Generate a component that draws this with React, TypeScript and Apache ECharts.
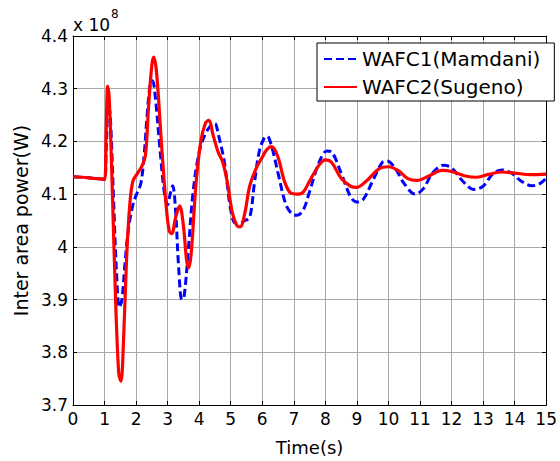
import React, { useEffect, useRef } from "react";
import * as echarts from "echarts";

const xTicks = [0, 1, 2, 3, 4, 5, 6, 7, 8, 9, 10, 11, 12, 13, 14, 15];
const yTicks = [3.7, 3.8, 3.9, 4.0, 4.1, 4.2, 4.3, 4.4];

// WAFC1 (Mamdani) — blue dashed, values in 1e8 W
const mamdaniT = [0, 0.5, 1.0, 1.05, 1.12, 1.18, 1.28, 1.38, 1.47, 1.55, 1.65, 1.75, 1.9, 2.05, 2.15, 2.25, 2.35, 2.45, 2.52, 2.6, 2.75, 2.9, 3.0, 3.08, 3.16, 3.25, 3.35, 3.45, 3.52, 3.65, 3.8, 4.0, 4.2, 4.4, 4.5, 4.6, 4.8, 5.0, 5.15, 5.3, 5.45, 5.6, 5.75, 5.9, 6.05, 6.15, 6.3, 6.5, 6.75, 6.95, 7.1, 7.3, 7.5, 7.8, 8.05, 8.2, 8.5, 8.8, 9.0, 9.2, 9.5, 9.8, 9.95, 10.2, 10.5, 10.85, 11.1, 11.4, 11.75, 12.0, 12.35, 12.7, 13.0, 13.3, 13.6, 13.9, 14.2, 14.55, 14.8, 15];
const mamdaniV = [4.133, 4.131, 4.128, 4.18, 4.27, 4.25, 4.1, 3.95, 3.885, 3.9, 3.97, 4.03, 4.08, 4.105, 4.12, 4.17, 4.25, 4.31, 4.315, 4.29, 4.19, 4.1, 4.08, 4.1, 4.116, 4.07, 3.96, 3.9, 3.905, 3.99, 4.1, 4.18, 4.215, 4.232, 4.234, 4.215, 4.16, 4.07, 4.045, 4.045, 4.05, 4.055, 4.12, 4.18, 4.205, 4.21, 4.19, 4.14, 4.08, 4.062, 4.06, 4.07, 4.105, 4.16, 4.182, 4.18, 4.14, 4.095, 4.085, 4.09, 4.125, 4.16, 4.163, 4.15, 4.12, 4.1, 4.11, 4.14, 4.155, 4.15, 4.125, 4.109, 4.115, 4.138, 4.146, 4.14, 4.125, 4.116, 4.12, 4.13];

// WAFC2 (Sugeno) — red solid, values in 1e8 W
const sugenoT = [0, 0.5, 1.0, 1.05, 1.1, 1.15, 1.25, 1.35, 1.45, 1.52, 1.6, 1.7, 1.8, 1.9, 2.05, 2.2, 2.3, 2.4, 2.5, 2.56, 2.65, 2.8, 2.95, 3.05, 3.13, 3.25, 3.38, 3.5, 3.6, 3.67, 3.75, 3.9, 4.05, 4.2, 4.3, 4.45, 4.6, 4.75, 4.9, 5.05, 5.2, 5.3, 5.45, 5.6, 5.8, 6.0, 6.15, 6.3, 6.5, 6.7, 6.9, 7.1, 7.3, 7.5, 7.8, 8.0, 8.2, 8.5, 8.8, 9.0, 9.3, 9.7, 10.0, 10.3, 10.6, 10.9, 11.3, 11.7, 12.0, 12.4, 12.8, 13.2, 13.6, 14.0, 14.5, 15];
const sugenoV = [4.133, 4.131, 4.128, 4.22, 4.305, 4.28, 4.1, 3.9, 3.76, 3.745, 3.82, 3.98, 4.08, 4.125, 4.14, 4.155, 4.175, 4.27, 4.345, 4.36, 4.33, 4.2, 4.08, 4.03, 4.025, 4.055, 4.078, 4.04, 3.975, 3.96, 3.99, 4.12, 4.2, 4.235, 4.24, 4.21, 4.18, 4.16, 4.12, 4.065, 4.04, 4.038, 4.065, 4.115, 4.148, 4.17, 4.185, 4.19, 4.17, 4.125, 4.102, 4.1, 4.104, 4.125, 4.155, 4.165, 4.16, 4.13, 4.115, 4.113, 4.125, 4.148, 4.152, 4.145, 4.13, 4.126, 4.135, 4.145, 4.143, 4.135, 4.132, 4.138, 4.142, 4.14, 4.137, 4.138];

const FONT = "DejaVu Sans";

export default function App() {
  const ref = useRef<HTMLDivElement>(null);
  useEffect(() => {
    if (!ref.current) return;
    const chart = echarts.init(ref.current, undefined, { renderer: "svg" });
    const fmtY = (v: number) => String(+v.toFixed(1));
    const common = {
      min: xTicks[0],
      max: xTicks[xTicks.length - 1],
      interval: 1,
    };
    const yCommon = {
      min: yTicks[0],
      max: yTicks[yTicks.length - 1],
      interval: 0.1,
    };
    chart.setOption({
      animation: false,
      backgroundColor: "#fff",
      grid: { left: 73, right: 13, top: 36, bottom: 50, show: false },
      legend: {
        orient: "vertical",
        left: 317,
        top: 43,
        padding: [6, 14, 4, 6],
        itemWidth: 33,
        itemHeight: 14,
        itemGap: 8,
        backgroundColor: "#fff",
        borderColor: "#000",
        borderWidth: 1,
        borderRadius: 0,
        itemStyle: { opacity: 0 },
        textStyle: { fontFamily: FONT, fontSize: 20, color: "#000", lineHeight: 20 },
        data: ["WAFC1(Mamdani)", "WAFC2(Sugeno)"],
      },
      xAxis: [
        {
          type: "value",
          ...common,
          position: "bottom",
          name: "Time(s)",
          nameLocation: "middle",
          nameGap: 33,
          nameTextStyle: { fontFamily: FONT, fontSize: 18, color: "#000" },
          axisLine: { show: true, onZero: false, lineStyle: { color: "#000", width: 1 } },
          axisTick: { show: true, inside: true, length: 4, lineStyle: { color: "#000" } },
          axisLabel: {
            show: true,
            fontFamily: FONT,
            fontSize: 17,
            color: "#000",
            margin: 5,
            formatter: (v: number) => String(v),
          },
          splitLine: { show: true, lineStyle: { color: "#a8a8a8", width: 1 } },
        },
        {
          type: "value",
          ...common,
          position: "top",
          axisLine: { show: true, onZero: false, lineStyle: { color: "#000", width: 1 } },
          axisTick: { show: true, inside: true, length: 4, lineStyle: { color: "#000" } },
          axisLabel: { show: false },
          splitLine: { show: false },
        },
      ],
      yAxis: [
        {
          type: "value",
          ...yCommon,
          position: "left",
          name: "Inter area power(W)",
          nameLocation: "middle",
          nameGap: 40,
          nameTextStyle: { fontFamily: FONT, fontSize: 19, color: "#000" },
          axisLine: { show: true, onZero: false, lineStyle: { color: "#000", width: 1 } },
          axisTick: { show: true, inside: true, length: 4, lineStyle: { color: "#000" } },
          axisLabel: {
            show: true,
            fontFamily: FONT,
            fontSize: 17,
            color: "#000",
            margin: 5,
            formatter: fmtY,
          },
          splitLine: { show: true, lineStyle: { color: "#a8a8a8", width: 1 } },
        },
        {
          type: "value",
          ...yCommon,
          position: "right",
          axisLine: { show: true, onZero: false, lineStyle: { color: "#000", width: 1 } },
          axisTick: { show: true, inside: true, length: 4, lineStyle: { color: "#000" } },
          axisLabel: { show: false },
          splitLine: { show: false },
        },
      ],
      graphic: [
        {
          type: "text",
          left: 73,
          top: 8,
          style: {
            text: "{a|x 10}{b|8}",
            rich: {
              a: { fontFamily: FONT, fontSize: 17, color: "#000", verticalAlign: "bottom", padding: [8, 0, 0, 0] },
              b: { fontFamily: FONT, fontSize: 12, color: "#000", verticalAlign: "top", padding: [0, 0, 10, 1] },
            },
          },
        },
      ],
      series: [
        {
          name: "WAFC1(Mamdani)",
          type: "line",
          xAxisIndex: 0,
          yAxisIndex: 0,
          data: mamdaniT.map((t, i) => [t, mamdaniV[i]]),
          showSymbol: false,
          symbol: "none",
          smooth: 0.35,
          lineStyle: { color: "#0000ff", width: 3, type: [8, 4] },
          itemStyle: { color: "#0000ff" },
          z: 2,
        },
        {
          name: "WAFC2(Sugeno)",
          type: "line",
          xAxisIndex: 0,
          yAxisIndex: 0,
          data: sugenoT.map((t, i) => [t, sugenoV[i]]),
          showSymbol: false,
          symbol: "none",
          smooth: 0.35,
          lineStyle: { color: "#ff0000", width: 3.2 },
          itemStyle: { color: "#ff0000" },
          z: 3,
        },
      ],
    });
    return () => chart.dispose();
  }, []);
  return <div ref={ref} style={{ width: 560, height: 461, position: "absolute", left: 0, top: 0 }} />;
}
